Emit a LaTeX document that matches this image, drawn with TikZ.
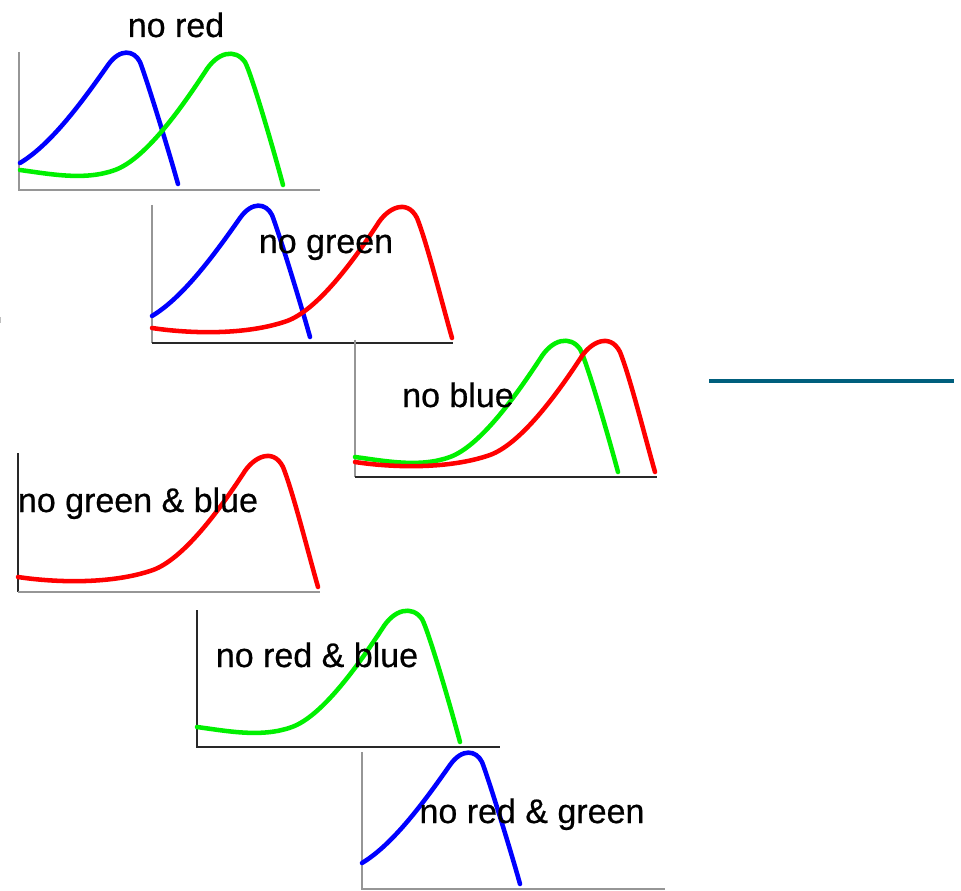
\documentclass[tikz,border=0pt]{standalone}
\usepackage{fontspec}
\setmainfont{Liberation Sans}
\newfontfamily\lblfont[FakeBold=0.6]{Liberation Sans}
\definecolor{tealline}{RGB}{0,95,125}
\definecolor{pblue}{RGB}{0,0,255}
\definecolor{pgreen}{RGB}{0,240,0}
\definecolor{pred}{RGB}{255,0,0}
\definecolor{axgray}{RGB}{150,150,150}
\definecolor{axdark}{RGB}{40,40,40}
\tikzset{
  curve/.style={line width=3.4pt, line cap=round, line join=round},
  axis/.style={line width=1.5pt, draw=axgray},
  axisdark/.style={line width=1.5pt, draw=axdark},
  lbl/.style={font=\lblfont\fontsize{25.5}{30}\selectfont, anchor=base, inner sep=0pt, text=black},
  bluecurve/.pic={\draw[curve, pblue] (0,-27) .. controls (30,-45) and (60,-85) .. (88,-125)
     .. controls (100,-142) and (114,-140) .. (120,-128)
     .. controls (127,-110) and (150,-35) .. (158,-6);},
  greencurve/.pic={\draw[curve, pgreen] (0,-20) .. controls (30,-16) and (65,-9) .. (95,-20)
     .. controls (125,-31) and (160,-80) .. (185,-118)
     .. controls (197,-138) and (215,-142) .. (225,-128)
     .. controls (232,-115) and (255,-35) .. (263,-5);},
  redcurve/.pic={\draw[curve, pred] (0,-15) .. controls (40,-9) and (95,-8) .. (135,-22)
     .. controls (165,-33) and (200,-80) .. (225,-118)
     .. controls (235,-135) and (255,-145) .. (265,-125)
     .. controls (275,-100) and (290,-40) .. (300,-5);}
}
\begin{document}
\begin{tikzpicture}[x=0.75pt, y=-0.75pt]
\useasboundingbox (0,0) rectangle (961,891);

% panel 1: no red
\draw[axis] (19,52) -- (19,190) -- (320,190);
\pic at (20,190) {bluecurve};
\pic at (20,190) {greencurve};
\node[lbl] (t1) at (176,37) {no red};

% panel 2: no green
\draw[axis] (152,205) -- (152,343);
\draw[axisdark] (152,343) -- (453,343);
\pic at (152,343) {bluecurve};
\pic at (152,343) {redcurve};
\node[lbl] (t2) at (326,253) {no green};

% panel 3: no blue
\draw[axis] (355,340) -- (355,477);
\draw[axisdark] (355,477) -- (657,477);
\pic at (355,477) {greencurve};
\pic at (355,477) {redcurve};
\node[lbl] (t3) at (458,407) {no blue};

% panel 4: no green & blue
\draw[axisdark] (18,453) -- (18,592);
\draw[axis] (18,592) -- (320,592);
\pic at (18,592) {redcurve};
\node[lbl] (t4) at (138,512) {no green \& blue};

% panel 5: no red & blue
\draw[axisdark] (197,610) -- (197,747) -- (500,747);
\pic at (197,747) {greencurve};
\node[lbl] (t5) at (317,667) {no red \& blue};

% panel 6: no red & green
\draw[axis] (362,752) -- (362,889) -- (665,889);
\pic at (362,890) {bluecurve};
\node[lbl] (t6) at (532,823) {no red \& green};

% teal line
\draw[tealline, line width=3pt] (709,381) -- (954,381);
% faint mark at left
\draw[black!25, line width=1.2pt] (0.6,317) -- (0.6,323);
\end{tikzpicture}
\end{document}
